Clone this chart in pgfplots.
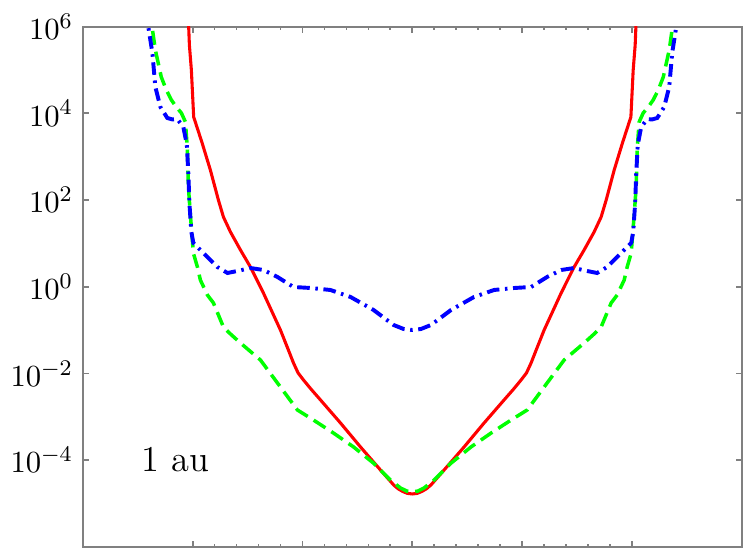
\documentclass[border=0pt]{standalone}
\usepackage{pgfplots}
\pgfplotsset{compat=1.18}
\begin{document}
\begin{tikzpicture}
% fixed page: the axis sits with its south west corner at (0,0)
\useasboundingbox (-29.6pt,-1.9pt) rectangle (237.15pt,195.25pt);
\begin{axis}[
    at={(0pt,0pt)}, anchor=south west,
    scale only axis,
    width=235.25pt, height=185.75pt,
    xmin=-3, xmax=3, ymin=-6, ymax=6,
    xtick={-2,-1,0,1,2}, minor x tick num=4, xticklabels={},
    ytick={-4,-2,0,2,4,6},
    yticklabels={$10^{-4}$,$10^{-2}$,$10^{0}$,$10^{2}$,$10^{4}$,$10^{6}$},
    tick align=inside,
    major tick length=2.2pt, minor tick length=1.1pt,
    axis line style={black!50, line width=0.7pt},
    tick style={black!50, line width=0.6pt},
    tick label style={font=\fontsize{11}{13}\selectfont},
]
% log10 values on a linear axis
\addplot[red, line width=1.1pt] coordinates {
 (-2.039,6.152)(-2.030,5.575)(-2.012,4.999)(-1.991,3.915)(-1.914,3.315)
 (-1.839,2.692)(-1.766,2.000)(-1.720,1.608)(-1.656,1.262)(-1.565,0.847)
 (-1.474,0.454)(-1.356,-0.145)(-1.201,-0.999)(-1.130,-1.450)(-1.082,-1.760)
 (-1.040,-1.990)(-0.991,-2.152)(-0.920,-2.370)
 (-0.836,-2.613)(-0.654,-3.144)(-0.472,-3.697)(-0.290,-4.228)(-0.170,-4.574)
 (-0.130,-4.660)(-0.088,-4.723)(-0.045,-4.768)(0,-4.782)
 (0.045,-4.768)(0.088,-4.723)(0.130,-4.660)(0.170,-4.574)(0.290,-4.228)
 (0.472,-3.697)(0.654,-3.144)(0.836,-2.613)(0.920,-2.370)(0.991,-2.152)
 (1.040,-1.990)(1.082,-1.760)(1.130,-1.450)
 (1.201,-0.999)(1.356,-0.145)(1.474,0.454)(1.565,0.847)(1.656,1.262)
 (1.720,1.608)(1.766,2.000)(1.839,2.692)(1.914,3.315)(1.991,3.915)
 (2.012,4.999)(2.030,5.575)(2.039,6.152)
};
\addplot[color={rgb,1:red,0;green,1;blue,0}, line width=1.25pt,
    dash pattern=on 5pt off 2.5pt] coordinates {
 (-2.381,6.383)(-2.370,5.991)(-2.340,5.460)(-2.286,4.837)(-2.240,4.537)
 (-2.194,4.307)(-2.149,4.145)(-2.103,4.007)(-2.066,3.799)(-2.048,3.153)
 (-2.039,2.300)(-2.021,1.654)(-2.005,1.146)(-1.994,0.777)(-1.957,0.454)
 (-1.930,0.154)(-1.866,-0.191)(-1.811,-0.376)(-1.720,-0.930)(-1.656,-1.091)
 (-1.565,-1.299)(-1.383,-1.691)(-1.201,-2.314)(-1.046,-2.845)(-0.900,-3.076)
 (-0.718,-3.376)(-0.535,-3.697)(-0.353,-4.071)(-0.198,-4.463)(-0.107,-4.644)
 (-0.050,-4.715)(0,-4.736)
 (0.050,-4.715)(0.107,-4.644)(0.198,-4.463)(0.353,-4.071)(0.535,-3.697)
 (0.718,-3.376)(0.900,-3.076)(1.046,-2.845)(1.201,-2.314)(1.383,-1.691)
 (1.565,-1.299)(1.656,-1.091)(1.720,-0.930)(1.811,-0.376)(1.866,-0.191)
 (1.930,0.154)(1.957,0.454)(1.994,0.777)(2.005,1.146)(2.021,1.654)
 (2.039,2.300)(2.048,3.153)(2.066,3.799)(2.103,4.007)(2.149,4.145)
 (2.194,4.307)(2.240,4.537)(2.286,4.837)(2.340,5.460)(2.370,5.991)(2.381,6.383)
};
\addplot[blue, line width=1.4pt,
    dash pattern=on 4.5pt off 2pt on 0.9pt off 2pt] coordinates {
 (-2.408,6.383)(-2.404,5.991)(-2.367,5.391)(-2.340,4.607)(-2.294,4.145)
 (-2.231,3.892)(-2.183,3.857)(-2.140,3.868)(-2.085,3.684)(-2.053,3.269)
 (-2.039,2.577)(-2.030,1.931)(-2.012,1.262)(-1.994,1.008)(-1.930,0.847)
 (-1.857,0.662)(-1.775,0.454)(-1.683,0.316)(-1.592,0.362)(-1.474,0.431)
 (-1.356,0.385)(-1.228,0.224)(-1.082,-0.007)(-0.927,-0.030)(-0.745,-0.076)
 (-0.562,-0.238)(-0.353,-0.537)(-0.170,-0.884)(-0.079,-0.976)(0,-0.999)
 (0.079,-0.976)(0.170,-0.884)(0.353,-0.537)(0.562,-0.238)(0.745,-0.076)
 (0.927,-0.030)(1.082,-0.007)(1.228,0.224)(1.356,0.385)(1.474,0.431)
 (1.592,0.362)(1.683,0.316)(1.775,0.454)(1.857,0.662)(1.930,0.847)
 (1.994,1.008)(2.012,1.262)(2.030,1.931)(2.039,2.577)(2.053,3.269)
 (2.085,3.684)(2.140,3.868)(2.183,3.857)(2.231,3.892)(2.294,4.145)
 (2.340,4.607)(2.367,5.391)(2.404,5.991)(2.408,6.383)
};
\node[anchor=base, font=\fontsize{13}{15}\selectfont] at (axis cs:-2.158,-4.27) {1 au};
\end{axis}
\end{tikzpicture}
\end{document}
